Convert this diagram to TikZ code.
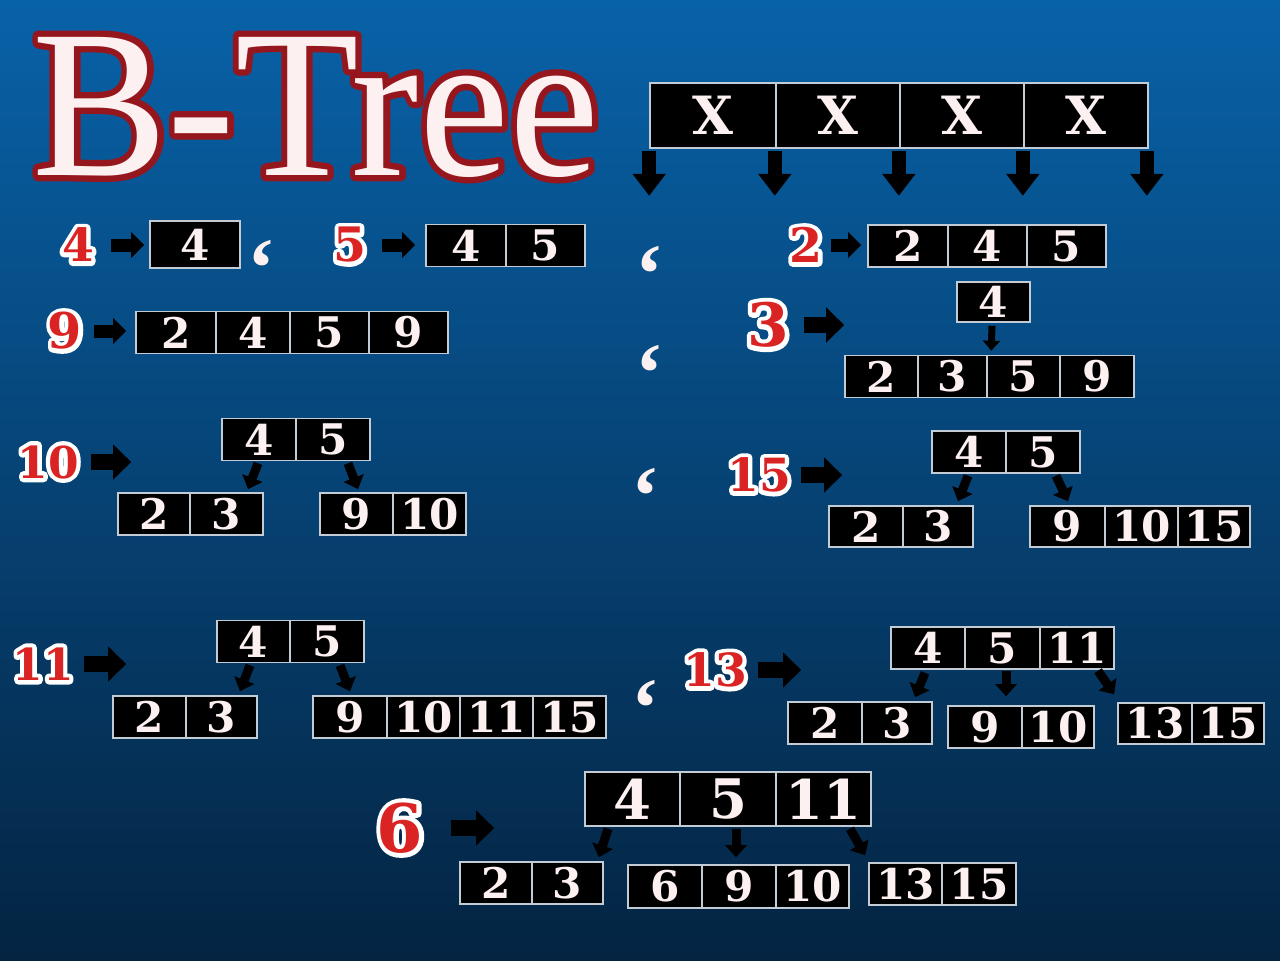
\documentclass[tikz,border=0pt]{standalone}
\usepackage{fontspec}
\usepackage{graphicx}
\setmainfont{DejaVu Serif}
\newfontfamily\titlefamily{Liberation Serif}
\usetikzlibrary{arrows.meta,calc}

\definecolor{bgtop}{RGB}{8,98,168}
\definecolor{bgmid}{RGB}{6,68,120}
\definecolor{bgbot}{RGB}{4,36,66}
\definecolor{keyred}{RGB}{218,36,36}
\definecolor{titlered}{RGB}{150,22,30}
\definecolor{celltext}{RGB}{252,240,240}
\definecolor{cellline}{RGB}{195,203,212}

% text with a stroked ring of another colour round it
\newcommand\ringtext[3]{%
  \rlap{\special{pdf:literal direct 2 Tr #2 w 1 j}\textcolor{#1}{#3}\special{pdf:literal direct 0 Tr}}#3}

\tikzset{
  cell/.style={draw=cellline, line width=0.45pt, fill=black, text=celltext, inner sep=0pt,
    minimum height=0.42cm, font=\bfseries\fontsize{12}{12}\selectfont},
  xbox/.style={minimum height=0.65cm, font=\bfseries\fontsize{15}{15}\selectfont},
  bigcell/.style={minimum height=0.54cm, font=\bfseries\fontsize{15.5}{15.5}\selectfont},
  keylabel/.style={text=keyred, inner sep=0pt, font=\bfseries\fontsize{#1}{#1}\selectfont},
  keylabel/.default=13,
  sepmark/.style={text=celltext, anchor=north, inner sep=0pt, font=\titlefamily\bfseries\fontsize{24}{24}\selectfont},
  keyarrow/.style={line width=0.13cm, -{Triangle[length=0.13cm,width=0.25cm]}},
  bigarrow/.style={line width=0.16cm, -{Triangle[length=0.18cm,width=0.34cm]}},
  downarrow/.style={line width=0.14cm, -{Triangle[length=0.22cm,width=0.32cm]}},
  treearrow/.style={line width=0.09cm, -{Triangle[length=0.12cm,width=0.21cm]}},
  thinarrow/.style={line width=0.07cm, -{Triangle[length=0.10cm,width=0.17cm]}}
}

\begin{document}
\begin{tikzpicture}[x=0.01cm,y=-0.01cm]
\useasboundingbox (0,0) rectangle (1280,960);
\shade[top color=bgtop, middle color=bgmid, bottom color=bgbot] (0,0) rectangle (1280,960);

% title
\node[anchor=base west, inner sep=0pt, text=celltext, font=\titlefamily\fontsize{60}{60}\selectfont] (title) at (32,175)
  {\scalebox{0.96}[1]{\ringtext{titlered}{3.6}{B-Tree}}};

% node with four keys
\node[cell, xbox, minimum width=1.26cm] (x1) at (713,115.5) {X};
\node[cell, xbox, minimum width=1.24cm] (x2) at (838,115.5) {X};
\node[cell, xbox, minimum width=1.24cm] (x3) at (962,115.5) {X};
\node[cell, xbox, minimum width=1.24cm] (x4) at (1086,115.5) {X};
\draw[downarrow] ([shift={(0,2)}]x1.south west) -- ([shift={(0,47)}]x1.south west);
\foreach \n in {1,...,4}
  \draw[downarrow] ([shift={(-2,2)}]x\n.south east) -- ([shift={(-2,47)}]x\n.south east);

% insert 4, 5
\node[keylabel] (k4) at (78,245) {\ringtext{white}{2.4}{4}};
\node[cell, minimum width=0.90cm, minimum height=0.47cm] (a4) at (195,244.5) {4};
\draw[keyarrow] ($(k4.east)+(16,0)$) -- ($(k4.east -| a4.west)+(-5,0)$);
\node[sepmark] (q1) at (262,240) {‘};

\node[keylabel=13.5] (k5) at (350,245) {\ringtext{white}{2.4}{5}};
\node[cell, minimum width=0.80cm] (b4) at (466,245.5) {4};
\node[cell, minimum width=0.79cm] (b5) at (545.5,245.5) {5};
\draw[keyarrow] ($(k5.east)+(15,0)$) -- ($(k5.east -| b4.west)+(-10,0)$);

% insert 2
\node[sepmark] (q2) at (650,246) {‘};
\node[keylabel=13.5] (k2) at (806,245) {\ringtext{white}{2.4}{2}};
\node[cell, minimum width=0.80cm] (c2) at (908,246) {2};
\node[cell, minimum width=0.79cm] (c4) at (987.5,246) {4};
\node[cell, minimum width=0.79cm] (c5) at (1066.5,246) {5};
\draw[keyarrow] ($(k2.east)+(8,0)$) -- ($(k2.east -| c2.west)+(-6,0)$);

% insert 9
\node[keylabel=14] (k9) at (65,331) {\ringtext{white}{2.4}{9}};
\node[cell, minimum width=0.80cm] (d2) at (176,332.5) {2};
\node[cell, minimum width=0.74cm] (d4) at (253,332.5) {4};
\node[cell, minimum width=0.79cm] (d5) at (329.5,332.5) {5};
\node[cell, minimum width=0.79cm] (d9) at (408.5,332.5) {9};
\draw[keyarrow] ($(k9.east)+(11,0)$) -- ($(k9.east -| d2.west)+(-9,0)$);

% insert 3
\node[sepmark] (q3) at (650,345) {‘};
\node[keylabel=17] (k3) at (768,325) {\ringtext{white}{2.6}{3}};
\node[cell, minimum width=0.73cm, minimum height=0.40cm] (e4) at (993.5,302) {4};
\node[cell, minimum width=0.73cm] (f2) at (881.5,376.5) {2};
\node[cell, minimum width=0.69cm] (f3) at (952.5,376.5) {3};
\node[cell, minimum width=0.73cm] (f5) at (1023.5,376.5) {5};
\node[cell, minimum width=0.74cm] (f9) at (1097,376.5) {9};
\draw[bigarrow] ($(k3.east)+(14,0)$) -- (k3.east -| f2.west);
\draw[thinarrow] ([shift={(-1.5,3)}]e4.south) -- ([shift={(5,-4)}]f5.north west);

% insert 10
\node[keylabel=12.5] (k10) at (48,462) {\ringtext{white}{2.4}{10}};
\node[cell, minimum width=0.74cm] (g4) at (259,439.5) {4};
\node[cell, minimum width=0.74cm] (g5) at (333,439.5) {5};
\node[cell, minimum width=0.72cm] (h2) at (154,514) {2};
\node[cell, minimum width=0.73cm] (h3) at (226.5,514) {3};
\node[cell, minimum width=0.73cm] (h9) at (356.5,514) {9};
\node[cell, minimum width=0.73cm] (h10) at (429.5,514) {10};
\draw[bigarrow] ($(k10.east)+(11.5,0)$) -- ($(k10.east -| h2.west)+(14,0)$);
\draw[treearrow] ([shift={(-1,2)}]g4.south) -- ([shift={(21.5,-3)}]h3.north);
\draw[treearrow] ([shift={(15,2)}]g5.south) -- ([shift={(1.5,-3)}]h9.north);

% insert 15
\node[sepmark] (q4) at (646,468) {‘};
\node[keylabel] (k15) at (759,475) {\ringtext{white}{2.4}{15}};
\node[cell, minimum width=0.74cm] (m4) at (969,452) {4};
\node[cell, minimum width=0.74cm] (m5) at (1043,452) {5};
\node[cell, minimum width=0.74cm, minimum height=0.41cm] (n2) at (866,526.5) {2};
\node[cell, minimum width=0.70cm, minimum height=0.41cm] (n3) at (938,526.5) {3};
\node[cell, minimum width=0.75cm, minimum height=0.41cm] (n9) at (1067.5,526.5) {9};
\node[cell, minimum width=0.73cm, minimum height=0.41cm] (n10) at (1141.5,526.5) {10};
\node[cell, minimum width=0.72cm, minimum height=0.41cm] (n15) at (1214,526.5) {15};
\draw[bigarrow] ($(k15.east)+(9,0)$) -- ($(k15.east -| n2.west)+(14,0)$);
\draw[treearrow] ([shift={(-1,2)}]m4.south) -- ([shift={(20,-4)}]n3.north);
\draw[treearrow] ([shift={(13,2)}]m5.south) -- ([shift={(0.5,-4)}]n9.north);

% insert 11
\node[keylabel=12.5] (k11) at (43,664) {\ringtext{white}{2.4}{11}};
\node[cell, minimum width=0.73cm] (r4) at (253.5,641.5) {4};
\node[cell, minimum width=0.74cm] (r5) at (327,641.5) {5};
\node[cell, minimum width=0.73cm] (s2) at (149.5,717) {2};
\node[cell, minimum width=0.71cm] (s3) at (221.5,717) {3};
\node[cell, minimum width=0.74cm] (s9) at (350,717) {9};
\node[cell, minimum width=0.73cm] (s10) at (423.5,717) {10};
\node[cell, minimum width=0.73cm] (s11) at (496.5,717) {11};
\node[cell, minimum width=0.73cm] (s15) at (569.5,717) {15};
\draw[bigarrow] ($(k11.east)+(9.5,0)$) -- ($(k11.east -| s2.west)+(14,0)$);
\draw[treearrow] ([shift={(-3.5,2)}]r4.south) -- ([shift={(18.5,-4)}]s3.north);
\draw[treearrow] ([shift={(13,2)}]r5.south) -- ([shift={(0,-4)}]s9.north);

% insert 13
\node[sepmark] (q5) at (646,680) {‘};
\node[keylabel] (k13) at (715,670) {\ringtext{white}{2.4}{13}};
\node[cell, minimum width=0.74cm] (u4) at (928,648) {4};
\node[cell, minimum width=0.75cm] (u5) at (1002.5,648) {5};
\node[cell, minimum width=0.74cm] (u11) at (1077,648) {11};
\node[cell, minimum width=0.74cm] (v2) at (825,723) {2};
\node[cell, minimum width=0.70cm] (v3) at (897,723) {3};
\node[cell, minimum width=0.74cm] (v9) at (985,727) {9};
\node[cell, minimum width=0.72cm] (v10) at (1058,727) {10};
\node[cell, minimum width=0.74cm, minimum height=0.41cm] (v13) at (1155,723.5) {13};
\node[cell, minimum width=0.72cm, minimum height=0.41cm] (v15) at (1228,723.5) {15};
\draw[bigarrow] ($(k13.east)+(10,0)$) -- ($(k13.east -| v2.west)+(14,0)$);
\draw[treearrow] ([shift={(-3,3)}]u4.south) -- ([shift={(18,-4)}]v3.north);
\draw[treearrow] ([shift={(3.5,1)}]u5.south) -- ([shift={(21,-9)}]v9.north);
\draw[treearrow] ([shift={(21,1)}]u11.south) -- ([shift={(-3,-8)}]v13.north west);

% insert 6
\node[keylabel=19] (k6) at (400,828) {\ringtext{white}{2.6}{6}};
\node[cell, bigcell, minimum width=0.95cm] (w4) at (632.5,799) {4};
\node[cell, bigcell, minimum width=0.96cm] (w5) at (728,799) {5};
\node[cell, bigcell, minimum width=0.95cm] (w11) at (823.5,799) {11};
\node[cell, minimum width=0.72cm] (y2) at (496,883) {2};
\node[cell, minimum width=0.71cm] (y3) at (567.5,883) {3};
\node[cell, minimum width=0.74cm, minimum height=0.43cm] (y6) at (665,886.5) {6};
\node[cell, minimum width=0.74cm, minimum height=0.43cm] (y9) at (739,886.5) {9};
\node[cell, minimum width=0.73cm, minimum height=0.43cm] (y10) at (812.5,886.5) {10};
\node[cell, minimum width=0.73cm] (y13) at (905.5,884) {13};
\node[cell, minimum width=0.74cm] (y15) at (979,884) {15};
\draw[bigarrow] ($(k6.east)+(27,0)$) -- ($(k6.east -| y2.west)+(35,0)$);
\draw[treearrow] ([shift={(-24.5,2)}]w4.south) -- ([shift={(-5,-4)}]y3.north east);
\draw[treearrow] ([shift={(8,2)}]w5.south) -- ([shift={(-3,-7)}]y9.north);
\draw[treearrow] ([shift={(26.5,2)}]w11.south) -- ([shift={(-3,-7)}]y13.north west);
\end{tikzpicture}
\end{document}
